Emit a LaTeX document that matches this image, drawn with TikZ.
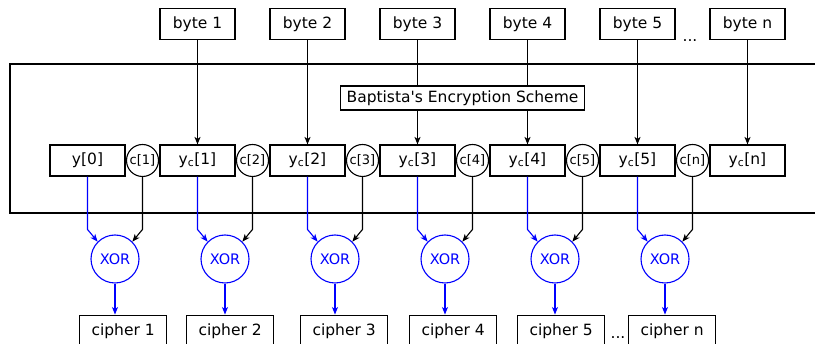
\documentclass[tikz,border=0pt]{standalone}
\usepackage{fontspec}
\setmainfont{DejaVu Sans}
\usetikzlibrary{positioning,arrows.meta,calc}

\begin{document}
\begin{tikzpicture}[
x=1pt,y=-1pt,
line width=1.1pt,
node distance=0.4pt,
every node/.style={font=\fontsize{15.5}{18}\selectfont},
box/.style={draw,minimum width=75pt,minimum height=31pt,inner sep=0pt},
key/.style={draw,circle,minimum size=32pt,inner sep=0pt,font=\fontsize{13}{15}\selectfont},
xor/.style={draw=blue,text=blue,circle,minimum size=48pt,inner sep=0pt,font=\fontsize{14.5}{17}\selectfont},
cipherbox/.style={draw,minimum height=32pt,inner xsep=12pt,inner ysep=0pt,anchor=north west},
>={Stealth[length=7.5pt,width=6pt,inset=2pt]}]
\useasboundingbox (0,0) rectangle (815,344);
\clip (0,0) rectangle (815,344);

% encryption block
\draw (10,64) rectangle (830,213);

% keystream row
\node[box] (y0) at (87.5,160.5) {y[0]};
\node[key,right=of y0] (c1) {c[1]};
\node[box,right=of c1] (yc1) {y\textsubscript{c}[1]};
\node[key,right=of yc1] (c2) {c[2]};
\node[box,right=of c2] (yc2) {y\textsubscript{c}[2]};
\node[key,right=of yc2] (c3) {c[3]};
\node[box,right=of c3] (yc3) {y\textsubscript{c}[3]};
\node[key,right=of yc3] (c4) {c[4]};
\node[box,right=of c4] (yc4) {y\textsubscript{c}[4]};
\node[key,right=of yc4] (c5) {c[5]};
\node[box,right=of c5] (yc5) {y\textsubscript{c}[5]};
\node[key,right=of yc5] (cn) {c[n]};
\node[box,right=of cn] (ycn) {y\textsubscript{c}[n]};

% plaintext bytes
\node[box,above=104pt of yc1] (b1) {byte 1};
\node[box,above=104pt of yc2] (b2) {byte 2};
\node[box,above=104pt of yc3] (b3) {byte 3};
\node[box,above=104pt of yc4] (b4) {byte 4};
\node[box,above=104pt of yc5] (b5) {byte 5};
\node[box,above=104pt of ycn] (bn) {byte n};
\node (dotsin) at (690,41) {...};

\node[draw,minimum height=24pt,inner xsep=6pt,inner ysep=0pt] (bapt) at (462.5,98) {Baptista\textquotesingle s Encryption Scheme};

\draw[->] (b1) -- (yc1);
\draw[->] (b2) -- (yc2);
\draw (b3) -- (bapt.north -| b3);
\draw[->] (bapt.south -| b3) -- (yc3);
\draw (b4) -- (bapt.north -| b4);
\draw[->] (bapt.south -| b4) -- (yc4);
\draw[->] (b5) -- (yc5);
\draw[->] (bn) -- (ycn);

% xor gates
\node[xor] (x1) at ($(y0)!0.5!(c1)+(0,98.5)$) {XOR};
\node[xor] (x2) at ($(yc1)!0.5!(c2)+(0,98.5)$) {XOR};
\node[xor] (x3) at ($(yc2)!0.5!(c3)+(0,98.5)$) {XOR};
\node[xor] (x4) at ($(yc3)!0.5!(c4)+(0,98.5)$) {XOR};
\node[xor] (x5) at ($(yc4)!0.5!(c5)+(0,98.5)$) {XOR};
\node[xor] (xn) at ($(yc5)!0.5!(cn)+(0,98.5)$) {XOR};

\draw[->,blue] (y0) -- ($(y0 |- x1.north)+(0,-5)$) -- (x1.135);
\draw[->] (c1) -- ($(c1 |- x1.north)+(0,-5)$) -- (x1.45);
\draw[->,blue] (yc1) -- ($(yc1 |- x2.north)+(0,-5)$) -- (x2.135);
\draw[->] (c2) -- ($(c2 |- x2.north)+(0,-5)$) -- (x2.45);
\draw[->,blue] (yc2) -- ($(yc2 |- x3.north)+(0,-5)$) -- (x3.135);
\draw[->] (c3) -- ($(c3 |- x3.north)+(0,-5)$) -- (x3.45);
\draw[->,blue] (yc3) -- ($(yc3 |- x4.north)+(0,-5)$) -- (x4.135);
\draw[->] (c4) -- ($(c4 |- x4.north)+(0,-5)$) -- (x4.45);
\draw[->,blue] (yc4) -- ($(yc4 |- x5.north)+(0,-5)$) -- (x5.135);
\draw[->] (c5) -- ($(c5 |- x5.north)+(0,-5)$) -- (x5.45);
\draw[->,blue] (yc5) -- ($(yc5 |- xn.north)+(0,-5)$) -- (xn.135);
\draw[->] (cn) -- ($(cn |- xn.north)+(0,-5)$) -- (xn.45);

% ciphertext
\node[cipherbox] (o1) at ([xshift=-36pt,yshift=-31pt]x1.south) {cipher 1};
\node[cipherbox] (o2) at ([xshift=-39pt,yshift=-31pt]x2.south) {cipher 2};
\node[cipherbox] (o3) at ([xshift=-35pt,yshift=-31pt]x3.south) {cipher 3};
\node[cipherbox] (o4) at ([xshift=-36pt,yshift=-31pt]x4.south) {cipher 4};
\node[cipherbox] (o5) at ([xshift=-38pt,yshift=-31pt]x5.south) {cipher 5};
\node[cipherbox] (on) at ([xshift=-37pt,yshift=-31pt]xn.south) {cipher n};
\node[inner sep=1pt] (dotsout) at (618,338) {...};

\draw[->,blue] (x1) -- (x1 |- o1.north);
\draw[->,blue] (x2) -- (x2 |- o2.north);
\draw[->,blue] (x3) -- (x3 |- o3.north);
\draw[->,blue] (x4) -- (x4 |- o4.north);
\draw[->,blue] (x5) -- (x5 |- o5.north);
\draw[->,blue] (xn) -- (xn |- on.north);
\end{tikzpicture}
\end{document}
